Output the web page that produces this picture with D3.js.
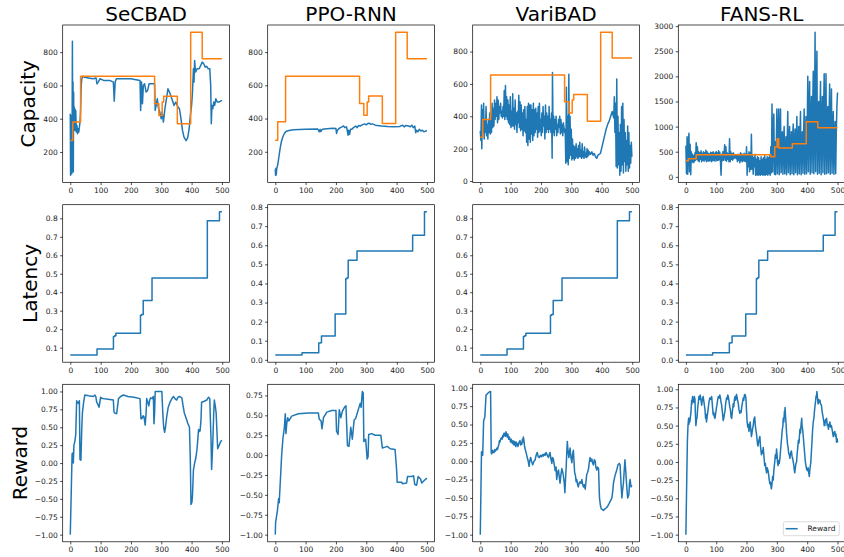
<!DOCTYPE html>
<html><head><meta charset="utf-8">
<script src="https://cdn.jsdelivr.net/npm/d3@7"></script>
<style>body{margin:0;background:#fff} text{font-family:"DejaVu Sans",sans-serif}</style>
</head><body><svg id="c" width="844" height="557"></svg>
<script>
const methods = ["SeCBAD","PPO-RNN","VariBAD","FANS-RL"];
const metrics = ["Capacity","Latency","Reward"];
const xTicks = [0,100,200,300,400,500];
const capTicksA = [200,400,600,800];
const capTicksB = [0,200,400,600,800];
const capTicksC = [0,500,1000,1500,2000,2500,3000];
const latTicksA = [0.1,0.2,0.3,0.4,0.5,0.6,0.7,0.8];
const latTicksB = [0.0,0.1,0.2,0.3,0.4,0.5,0.6,0.7,0.8];
const rewTicksA = [-1,-0.75,-0.5,-0.25,0,0.25,0.5,0.75,1];
const rewTicksB = [-1,-0.75,-0.5,-0.25,0,0.25,0.5,0.75];

// target capacity (step changes) [step, value]
const capTarget = [[0,270],[8,380],[34,655],[278,490],[292,420],[303,500],[308,535],[353,370],[397,920],[435,760],[500,760]];
const capTargetFANS = [[0,320],[8,360],[34,440],[280,400],[293,595],[301,760],[306,575],[351,660],[397,1095],[435,975],[500,975]];

const capSeCBAD = [[0,430],[1,60],[2,330],[3,90],[4,420],[5,70],[6,300],[7,865],[8,250],[9,620],[10,80],[11,560],[12,330],[13,470],[14,360],[15,460],[16,330],[18,450],[20,320],[22,360],[24,310],[26,340],[28,320],[30,350],[32,380],[34,450],[36,600],[38,640],[42,655],[45,650],[60,645],[75,640],[85,645],[88,610],[92,620],[98,640],[110,630],[130,630],[142,620],[145,505],[148,620],[152,640],[175,640],[200,640],[230,630],[232,450],[235,620],[238,490],[241,600],[245,610],[250,560],[255,570],[260,610],[270,610],[278,610],[280,450],[283,480],[287,520],[290,470],[295,440],[300,400],[303,440],[307,380],[312,460],[318,530],[322,580],[327,560],[335,520],[342,480],[348,500],[355,470],[360,460],[365,400],[370,330],[375,290],[382,268],[387,285],[392,340],[396,420],[400,480],[403,560],[406,700],[408,620],[410,750],[413,680],[418,700],[425,700],[430,720],[435,740],[440,730],[445,710],[450,715],[455,700],[460,700],[463,600],[465,370],[467,480],[470,460],[473,500],[476,480],[480,520],[485,500],[490,500],[500,510]];

const capPPO = [[0,95],[1,58],[2,100],[3,60],[5,100],[8,120],[12,170],[16,220],[20,260],[25,290],[30,310],[35,322],[45,328],[60,333],[100,335],[140,337],[145,320],[148,335],[150,322],[155,335],[170,338],[190,342],[200,340],[202,310],[205,330],[210,340],[215,345],[220,350],[225,355],[230,345],[235,350],[240,300],[242,330],[245,305],[248,335],[252,335],[258,345],[265,355],[270,345],[275,358],[280,355],[285,360],[290,365],[295,368],[300,362],[305,370],[310,372],[315,365],[320,368],[330,360],[350,355],[370,352],[390,350],[410,352],[420,360],[425,350],[430,358],[440,355],[445,350],[450,360],[455,345],[460,355],[463,315],[466,330],[470,320],[475,335],[480,325],[485,330],[490,320],[500,328]];

const capVariBAD = [[0,310],[2,250],[4,470],[5,200],[7,440],[9,300],[11,480],[13,260],[15,380],[17,300],[19,460],[21,280],[23,350],[25,260],[27,380],[29,300],[31,420],[33,290],[35,380],[37,300],[39,480],[41,330],[43,450],[45,340],[47,500],[49,380],[51,480],[53,400],[55,520],[57,360],[59,500],[61,380],[63,460],[65,420],[67,480],[69,400],[71,430],[73,390],[75,460],[77,400],[79,560],[81,380],[83,590],[85,400],[87,520],[89,380],[91,500],[93,360],[95,470],[97,350],[99,520],[101,330],[103,430],[105,340],[107,540],[109,340],[111,450],[113,320],[115,500],[117,350],[119,420],[121,300],[123,430],[125,360],[127,530],[129,330],[131,490],[133,310],[135,470],[137,320],[139,420],[141,280],[143,440],[145,310],[147,460],[149,300],[151,380],[153,240],[155,460],[157,220],[159,480],[161,260],[163,470],[165,240],[167,470],[169,290],[171,440],[173,250],[175,480],[177,280],[179,440],[181,300],[183,450],[185,320],[187,420],[189,270],[191,460],[193,300],[195,480],[197,310],[199,380],[201,280],[203,420],[205,300],[207,460],[209,340],[211,400],[213,260],[215,470],[217,300],[219,420],[221,320],[223,400],[225,300],[227,460],[229,320],[231,380],[233,300],[235,420],[237,140],[238,670],[240,300],[242,400],[244,280],[246,380],[248,320],[250,400],[252,280],[254,350],[256,300],[258,380],[260,330],[262,400],[264,290],[266,380],[268,300],[270,350],[272,280],[274,360],[276,330],[278,300],[280,320],[282,110],[284,580],[286,120],[288,400],[290,100],[292,660],[294,140],[296,400],[298,160],[300,320],[302,130],[304,260],[306,140],[308,220],[310,130],[312,210],[314,140],[316,230],[318,150],[320,200],[322,140],[324,220],[326,150],[328,240],[330,150],[332,190],[334,140],[336,230],[338,150],[340,180],[342,140],[344,210],[346,150],[348,170],[350,145],[352,200],[354,150],[356,190],[358,160],[360,180],[364,165],[368,180],[372,160],[376,170],[380,150],[384,140],[388,160],[392,165],[396,170],[400,200],[405,240],[410,280],[415,320],[420,350],[425,370],[430,400],[435,430],[440,390],[442,520],[444,300],[446,480],[448,90],[450,630],[452,80],[454,400],[456,100],[458,300],[460,35],[462,350],[464,60],[466,460],[468,100],[470,480],[472,50],[474,380],[476,120],[478,300],[480,60],[482,250],[484,100],[486,340],[488,60],[490,300],[492,80],[494,220],[496,110],[498,240],[500,150]];

// FANS-RL capacity, one value every 2 steps
const capFANSStep = 2;
const capFANS = [620,60,800,50,600,870,100,650,40,500,300,450,280,420,300,480,330,
680,350,600,320,500,300,480,350,520,300,470,330,500,310,480,340,530,300,500,320,470,310,460,330,490,300,480,320,500,330,470,310,480,
500,320,480,330,520,340,490,310,30,450,320,500,330,480,640,330,600,310,480,350,460,300,760,300,500,350,460,330,480,360,450,380,440,360,430,300,450,330,420,280,480,320,460,300,440,320,470,310,450,300,
600,30,450,200,500,100,480,150,850,150,420,50,380,200,450,30,350,40,400,30,380,40,320,30,400,50,350,30,380,40,420,30,350,50,400,30,380,60,420,30,
600,80,1450,100,900,1250,50,700,40,600,1350,60,700,1350,40,800,1350,80,600,900,50,700,1000,60,500,800,40,700,1300,80,600,1000,40,700,900,60,800,1050,40,600,950,80,700,1200,40,600,1000,60,800,1300,40,700,900,70,800,1350,50,600,1200,60,
900,2000,100,1200,1900,50,1000,1600,80,1300,2100,60,1100,2880,100,1400,2500,50,1000,1500,70,1200,1900,40,1000,1600,80,1300,2050,50,1200,2050,60,900,1400,80,1100,1850,50,1000,1750,70,900,1300,50,800,1100,60,900,1400,1680];

const latA = [[0,0.06],[88,0.093],[142,0.16],[146,0.165],[150,0.178],[231,0.275],[235,0.28],[240,0.355],[269,0.477],[451,0.787],[491,0.835],[499,0.835]];
const latB = [[0,0.025],[88,0.037],[143,0.088],[148,0.09],[152,0.125],[197,0.24],[232,0.425],[236,0.43],[240,0.522],[269,0.57],[452,0.652],[491,0.775],[499,0.775]];

const rewSeCBAD = [[0,-1],[6,0.13],[8,0.14],[10,0.0],[12,0.25],[15,0.3],[18,0.4],[21,0.87],[24,0.84],[26,0.85],[28,0.83],[30,0.87],[32,0.05],[35,0.04],[38,0.5],[40,0.7],[44,0.85],[48,0.95],[60,0.94],[76,0.93],[81,0.95],[84,0.93],[87,0.85],[91,0.82],[95,0.78],[100,0.92],[105,0.9],[109,0.9],[125,0.89],[142,0.88],[144,0.72],[146,0.7],[153,0.69],[159,0.9],[166,0.93],[175,0.95],[190,0.93],[210,0.92],[230,0.9],[233,0.62],[236,0.62],[240,0.66],[243,0.65],[247,0.53],[250,0.7],[252,0.9],[256,0.85],[259,0.8],[262,0.88],[265,0.91],[270,0.9],[274,0.93],[276,0.55],[278,0.7],[280,1.0],[290,1.0],[302,1.0],[305,0.7],[308,0.5],[311,0.43],[314,0.5],[318,0.65],[323,0.78],[329,0.85],[335,0.9],[340,0.93],[345,0.9],[351,0.88],[355,0.92],[360,0.93],[368,0.91],[372,0.8],[376,0.7],[380,0.65],[384,0.6],[388,0.55],[393,0.5],[396,0.0],[398,-0.58],[401,-0.55],[403,-0.45],[406,-0.1],[410,0.0],[414,0.07],[418,0.2],[423,0.47],[426,0.44],[428,0.45],[431,0.6],[433,0.85],[440,0.86],[450,0.88],[456,0.92],[460,0.9],[462,0.6],[464,0.35],[466,-0.09],[468,0.1],[470,0.3],[473,0.7],[475,0.88],[478,0.8],[481,0.7],[484,0.4],[486,0.2],[491,0.25],[496,0.3],[500,0.32]];

const rewPPO = [[0,-1],[1,-0.85],[7,-0.7],[11,-0.55],[13,-0.6],[17,-0.3],[21,0.0],[25,0.2],[30,0.35],[33,0.52],[35,0.27],[38,0.4],[41,0.47],[45,0.43],[54,0.49],[76,0.52],[110,0.53],[142,0.53],[145,0.45],[151,0.43],[154,0.33],[159,0.47],[170,0.54],[186,0.56],[200,0.56],[202,0.3],[207,0.26],[211,0.57],[216,0.47],[221,0.55],[228,0.6],[233,0.62],[238,0.12],[243,0.11],[249,0.35],[254,0.2],[260,0.44],[265,0.46],[272,0.55],[280,0.65],[283,0.6],[287,0.8],[290,0.78],[292,0.17],[298,0.2],[303,-0.05],[306,-0.02],[308,0.26],[318,0.27],[329,0.25],[348,0.25],[353,0.09],[362,0.1],[369,0.11],[379,0.08],[395,0.07],[400,-0.18],[402,-0.34],[417,-0.34],[419,-0.36],[433,-0.35],[436,-0.27],[450,-0.27],[456,-0.26],[460,-0.37],[466,-0.38],[471,-0.27],[479,-0.3],[483,-0.35],[491,-0.32],[500,-0.29]];

const rewVariBAD = [[0,-1],[4,0.13],[8,0.08],[11,0.55],[15,0.6],[19,0.9],[26,0.93],[32,0.95],[34,0.95],[36,0.12],[38,0.1],[41,0.15],[43,0.12],[46,0.12],[48,0.16],[50,0.14],[52,0.15],[55,0.18],[57,0.16],[59,0.2],[61,0.22],[63,0.28],[65,0.26],[67,0.3],[70,0.32],[72,0.3],[74,0.35],[76,0.33],[78,0.38],[80,0.35],[81,0.38],[83,0.34],[85,0.4],[87,0.36],[89,0.33],[91,0.37],[92,0.33],[94,0.3],[96,0.33],[98,0.3],[100,0.26],[102,0.3],[104,0.27],[106,0.24],[108,0.28],[109,0.25],[111,0.22],[113,0.27],[115,0.25],[117,0.2],[119,0.26],[120,0.22],[122,0.24],[124,0.2],[126,0.23],[128,0.26],[131,0.28],[133,0.22],[135,0.25],[137,0.23],[139,0.3],[140,0.26],[142,0.33],[144,0.28],[146,0.2],[149,0.15],[152,0.1],[155,0.05],[158,0.0],[161,-0.07],[163,0.0],[166,0.05],[169,0.0],[173,-0.05],[177,0.0],[181,0.02],[184,0.08],[188,0.12],[191,0.06],[195,0.05],[198,0.08],[202,0.06],[205,0.09],[208,0.07],[211,0.1],[214,0.08],[217,0.12],[219,0.1],[222,0.07],[225,0.05],[228,0.1],[230,0.12],[233,0.03],[236,-0.03],[238,0.05],[241,0.03],[244,-0.05],[247,-0.13],[250,-0.08],[252,-0.25],[255,-0.15],[258,-0.12],[260,-0.2],[263,-0.3],[266,-0.18],[269,-0.1],[272,-0.15],[274,-0.2],[277,-0.3],[279,-0.43],[281,-0.25],[283,-0.1],[285,0.1],[287,0.27],[289,0.15],[292,0.05],[294,0.12],[296,0.18],[299,0.05],[302,-0.02],[304,0.08],[307,0.15],[309,0.0],[311,-0.15],[314,-0.2],[316,-0.28],[318,-0.25],[321,-0.32],[323,-0.35],[326,-0.3],[329,-0.28],[332,-0.3],[335,-0.25],[337,-0.3],[340,-0.35],[343,-0.32],[346,-0.38],[348,-0.3],[351,-0.18],[354,-0.15],[357,-0.1],[360,0.0],[362,0.05],[365,0.0],[368,0.03],[370,-0.02],[373,-0.05],[376,0.02],[379,0.0],[381,-0.08],[384,-0.12],[387,-0.08],[390,-0.1],[393,-0.5],[396,-0.6],[399,-0.65],[403,-0.66],[406,-0.67],[411,-0.65],[417,-0.63],[422,-0.6],[428,-0.55],[434,-0.5],[437,-0.4],[439,-0.3],[444,-0.2],[450,-0.12],[454,-0.05],[458,-0.03],[461,-0.05],[464,-0.3],[467,-0.5],[469,-0.4],[472,-0.3],[475,-0.1],[477,0.02],[480,-0.15],[483,-0.35],[486,-0.5],[488,-0.48],[490,-0.45],[492,-0.3],[494,-0.25],[497,-0.35],[500,-0.33]];

const rewFANS = [[0,-1],[3,-0.2],[5,0.3],[7,0.5],[9,0.6],[10,0.52],[12,0.6],[13,0.55],[15,0.62],[17,0.7],[19,0.85],[20,0.8],[22,0.9],[24,0.85],[26,0.82],[28,0.9],[30,0.86],[31,0.7],[33,0.5],[35,0.58],[37,0.62],[39,0.75],[41,0.82],[43,0.9],[45,0.86],[47,0.92],[49,0.88],[52,0.78],[54,0.85],[57,0.9],[59,0.84],[61,0.78],[63,0.72],[65,0.6],[66,0.66],[68,0.55],[70,0.62],[72,0.68],[74,0.75],[76,0.82],[79,0.88],[82,0.86],[85,0.9],[87,0.8],[90,0.65],[92,0.68],[94,0.62],[96,0.6],[98,0.66],[101,0.75],[103,0.8],[105,0.86],[107,0.9],[110,0.88],[112,0.92],[114,0.88],[116,0.82],[118,0.78],[120,0.7],[122,0.62],[123,0.57],[125,0.6],[127,0.66],[129,0.7],[131,0.8],[134,0.88],[136,0.86],[138,0.92],[140,0.9],[142,0.84],[145,0.75],[147,0.72],[149,0.62],[151,0.6],[153,0.68],[156,0.8],[158,0.76],[160,0.86],[162,0.9],[164,0.85],[167,0.93],[169,0.88],[171,0.84],[173,0.8],[175,0.72],[178,0.67],[180,0.7],[182,0.68],[184,0.75],[186,0.8],[189,0.88],[191,0.85],[193,0.92],[195,0.93],[197,0.9],[198,0.88],[200,0.7],[202,0.55],[204,0.48],[206,0.52],[208,0.42],[210,0.5],[212,0.55],[214,0.45],[216,0.35],[218,0.4],[220,0.46],[222,0.5],[224,0.58],[227,0.62],[229,0.5],[231,0.44],[233,0.38],[235,0.3],[236,0.25],[238,0.22],[240,0.28],[242,0.32],[244,0.35],[246,0.22],[249,0.1],[251,0.15],[253,0.12],[255,0.2],[257,0.1],[259,0.0],[260,-0.05],[262,-0.02],[264,-0.1],[266,-0.15],[268,-0.08],[271,-0.12],[273,-0.18],[275,-0.25],[277,-0.3],[279,-0.28],[281,-0.35],[282,-0.37],[284,-0.3],[286,-0.2],[288,-0.25],[290,-0.12],[293,0.0],[295,0.1],[297,0.05],[299,0.18],[301,0.08],[302,0.0],[304,-0.05],[306,0.02],[308,-0.02],[310,0.05],[312,0.15],[314,0.25],[316,0.35],[318,0.45],[320,0.5],[321,0.6],[323,0.55],[325,0.7],[326,0.62],[327,0.75],[329,0.6],[330,0.55],[332,0.4],[334,0.3],[335,0.25],[337,0.2],[339,0.12],[341,0.1],[343,0.05],[345,0.12],[348,0.15],[350,0.08],[352,0.05],[354,0.0],[356,-0.05],[357,-0.1],[359,-0.15],[361,-0.08],[363,-0.02],[365,0.0],[367,0.12],[369,0.2],[371,0.3],[373,0.26],[376,0.45],[378,0.4],[380,0.52],[382,0.6],[383,0.5],[385,0.45],[387,0.35],[388,0.3],[390,0.2],[392,0.1],[394,0.0],[396,-0.05],[398,-0.1],[401,-0.12],[403,-0.08],[405,-0.15],[407,-0.2],[409,-0.1],[412,0.0],[414,0.15],[416,0.3],[418,0.45],[420,0.55],[422,0.6],[424,0.7],[426,0.78],[428,0.85],[429,0.9],[431,0.92],[432,0.97],[434,0.88],[436,0.8],[438,0.86],[440,0.82],[442,0.85],[444,0.8],[447,0.78],[449,0.7],[451,0.65],[453,0.6],[455,0.55],[456,0.5],[458,0.5],[460,0.58],[462,0.55],[464,0.6],[466,0.5],[468,0.52],[470,0.45],[472,0.5],[475,0.55],[477,0.48],[480,0.5],[482,0.45],[484,0.4],[486,0.35],[488,0.4],[491,0.42],[493,0.35],[495,0.38],[497,0.27],[499,0.32],[500,0.27]];

const BLUE = "#1f77b4", ORANGE = "#ff7f0e";
const colLeft = [62.7, 267.7, 472.7, 678.3];
const rowTop = [25, 204.7, 384.3];
const W = 166.8, H = 157.5;

const capFANSPairs = capFANS.map((v,i)=>[i*capFANSStep, v]);

const panels = [
  [
    {series:[{d:capSeCBAD,c:BLUE},{d:capTarget,c:ORANGE,step:true}], ticks:capTicksA, fmt:d3.format("d")},
    {series:[{d:capPPO,c:BLUE},{d:capTarget,c:ORANGE,step:true}], ticks:capTicksA, fmt:d3.format("d")},
    {series:[{d:capVariBAD,c:BLUE},{d:capTarget,c:ORANGE,step:true}], ticks:capTicksB, fmt:d3.format("d")},
    {series:[{d:capFANSPairs,c:BLUE},{d:capTargetFANS,c:ORANGE,step:true}], ticks:capTicksC, fmt:d3.format("d")}
  ],
  [
    {series:[{d:latA,c:BLUE,step:true}], ticks:latTicksA, fmt:d3.format(".1f")},
    {series:[{d:latB,c:BLUE,step:true}], ticks:latTicksB, fmt:d3.format(".1f")},
    {series:[{d:latA,c:BLUE,step:true}], ticks:latTicksA, fmt:d3.format(".1f")},
    {series:[{d:latB,c:BLUE,step:true}], ticks:latTicksB, fmt:d3.format(".1f")}
  ],
  [
    {series:[{d:rewSeCBAD,c:BLUE}], ticks:rewTicksA, fmt:d3.format(".2f")},
    {series:[{d:rewPPO,c:BLUE}], ticks:rewTicksB, fmt:d3.format(".2f")},
    {series:[{d:rewVariBAD,c:BLUE}], ticks:rewTicksA, fmt:d3.format(".2f")},
    {series:[{d:rewFANS,c:BLUE}], ticks:rewTicksA, fmt:d3.format(".2f")}
  ]
];

const svg = d3.select("#c");
function pad(ext){const m=(ext[1]-ext[0])*0.05;return [ext[0]-m, ext[1]+m];}

panels.forEach((row, r) => {
  row.forEach((p, c) => {
    const all = p.series.flatMap(s => s.d);
    const x = d3.scaleLinear().domain(pad(d3.extent(all, d=>d[0]))).range([colLeft[c], colLeft[c]+W]);
    const y = d3.scaleLinear().domain(pad(d3.extent(all, d=>d[1]))).range([rowTop[r]+H, rowTop[r]]);
    const g = svg.append("g");
    const clipId = `clip${r}${c}`;
    g.append("clipPath").attr("id", clipId).append("rect")
      .attr("x", colLeft[c]).attr("y", rowTop[r]).attr("width", W).attr("height", H);
    const plot = g.append("g").attr("clip-path", `url(#${clipId})`);
    p.series.forEach(s => {
      const line = d3.line().x(d=>x(d[0])).y(d=>y(d[1])).curve(s.step ? d3.curveStepAfter : d3.curveLinear);
      plot.append("path").attr("d", line(s.d)).attr("fill","none").attr("stroke", s.c)
        .attr("stroke-width", 1.5).attr("stroke-linejoin","round");
    });
    const xa = g.append("g").attr("transform", `translate(0,${rowTop[r]+H})`)
      .call(d3.axisBottom(x).tickValues(xTicks).tickSize(2.6).tickPadding(2.4).tickSizeOuter(0));
    const ya = g.append("g").attr("transform", `translate(${colLeft[c]},0)`)
      .call(d3.axisLeft(y).tickValues(p.ticks).tickFormat(p.fmt).tickSize(2.6).tickPadding(2.4).tickSizeOuter(0));
    [xa, ya].forEach(a => {
      a.select(".domain").remove();
      a.selectAll("line").attr("stroke","#000").attr("stroke-width",0.7);
      a.selectAll("text").attr("font-size","7.5px").attr("fill","#222").attr("font-family","DejaVu Sans");
    });
    g.append("rect").attr("x", colLeft[c]).attr("y", rowTop[r]).attr("width", W).attr("height", H)
      .attr("fill","none").attr("stroke","#000").attr("stroke-width",0.7);
    if (r === 0) {
      svg.append("text").attr("x", colLeft[c]+W/2).attr("y", 20.5).attr("text-anchor","middle")
        .attr("font-size","20px").attr("fill","#000").text(methods[c]);
    }
    if (c === 0) {
      const lx = [35, 37, 27][r];
      svg.append("text").attr("transform", `translate(${lx},${rowTop[r]+H/2}) rotate(-90)`)
        .attr("text-anchor","middle").attr("font-size","20px").attr("fill","#000").text(metrics[r]);
    }
    if (r === 2 && c === 3) {
      const lg = svg.append("g");
      lg.append("rect").attr("x", 783.3).attr("y", 521.7).attr("width", 56).attr("height", 14)
        .attr("rx", 2).attr("fill","#fff").attr("fill-opacity",0.8).attr("stroke","#ccc").attr("stroke-width",0.7);
      lg.append("line").attr("x1", 785.7).attr("x2", 797.7).attr("y1", 528.7).attr("y2", 528.7)
        .attr("stroke", BLUE).attr("stroke-width", 1.5);
      lg.append("text").attr("x", 807.5).attr("y", 531.3).attr("font-size","7.5px").attr("fill","#222").text("Reward");
    }
  });
});
</script></body></html>
